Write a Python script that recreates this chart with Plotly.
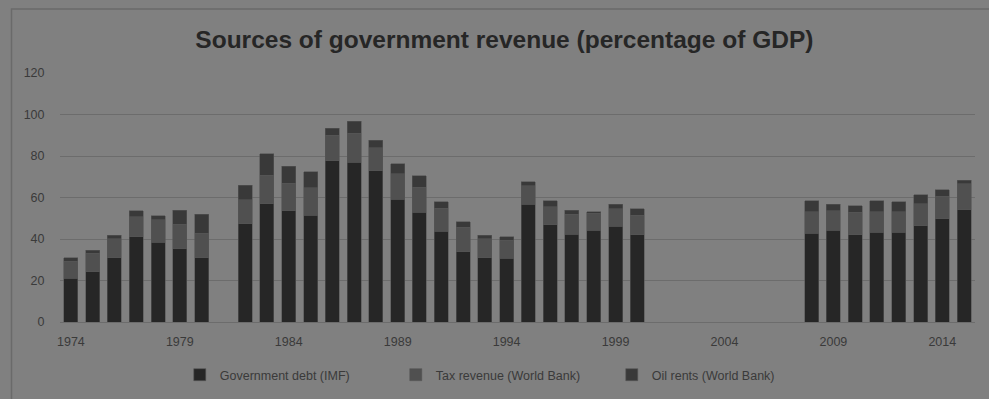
import plotly.graph_objects as go

years = list(range(1974, 2016))

debt_data = {
    1974: 21.0, 1975: 24.2, 1976: 31.0, 1977: 41.0, 1978: 38.4, 1979: 35.3, 1980: 31.0,
    1982: 47.4, 1983: 57.0, 1984: 53.5, 1985: 51.4, 1986: 77.8, 1987: 77.0, 1988: 73.0,
    1989: 59.1, 1990: 53.0, 1991: 43.7, 1992: 33.9, 1993: 31.0, 1994: 30.7, 1995: 56.8,
    1996: 46.9, 1997: 42.3, 1998: 44.2, 1999: 46.1, 2000: 42.0,
    2008: 42.8, 2009: 44.2, 2010: 42.1, 2011: 43.2, 2012: 43.2, 2013: 46.3, 2014: 49.7, 2015: 54.0,
}
tax_data = {
    1974: 8.4, 1975: 9.0, 1976: 9.1, 1977: 9.8, 1978: 11.0, 1979: 11.7, 1980: 11.7,
    1982: 11.5, 1983: 13.8, 1984: 13.3, 1985: 13.3, 1986: 12.1, 1987: 13.9, 1988: 10.9,
    1989: 12.3, 1990: 12.0, 1991: 11.2, 1992: 11.7, 1993: 9.1, 1994: 8.8, 1995: 8.8,
    1996: 8.7, 1997: 9.6, 1998: 8.2, 1999: 8.6, 2000: 9.4,
    2008: 10.4, 2009: 9.5, 2010: 10.8, 2011: 9.9, 2012: 9.9, 2013: 10.6, 2014: 10.8, 2015: 12.6,
}
oil_data = {
    1974: 1.6, 1975: 1.3, 1976: 1.6, 1977: 2.8, 1978: 1.8, 1979: 6.9, 1980: 9.3,
    1982: 6.9, 1983: 10.3, 1984: 8.3, 1985: 7.7, 1986: 3.4, 1987: 5.9, 1988: 3.7,
    1989: 4.8, 1990: 5.6, 1991: 3.0, 1992: 2.6, 1993: 1.8, 1994: 1.7, 1995: 2.1,
    1996: 2.8, 1997: 2.0, 1998: 0.8, 1999: 2.1, 2000: 3.1,
    2008: 5.3, 2009: 3.1, 2010: 3.2, 2011: 5.4, 2012: 4.9, 2013: 4.4, 2014: 3.3, 2015: 1.7,
}

debt = [debt_data.get(y) for y in years]
tax = [tax_data.get(y) for y in years]
oil = [oil_data.get(y) for y in years]

x_tick_vals = list(range(1974, 2016, 5))
y_tick_vals = [0, 20, 40, 60, 80, 100, 120]

series = [
    ("Government debt (IMF)", debt, "#262626"),
    ("Tax revenue (World Bank)", tax, "#505050"),
    ("Oil rents (World Bank)", oil, "#393939"),
]

fig = go.Figure()
for name, vals, col in series:
    fig.add_trace(go.Bar(
        x=years, y=vals, name=name,
        marker=dict(color=col, line=dict(color="#555555", width=0.6)),
        width=0.64,
    ))

font_family = "Liberation Sans, Arial, sans-serif"
fig.update_layout(
    barmode="stack",
    width=989, height=399,
    margin=dict(l=60, r=14, t=73, b=77, autoexpand=False),
    paper_bgcolor="#808080",
    plot_bgcolor="#808080",
    font=dict(family=font_family, size=12, color="#3a3a3a"),
    title=dict(
        text="<b>Sources of government revenue (percentage of GDP)</b>",
        x=0.51, xanchor="center", y=0.9, yanchor="middle",
        font=dict(size=24.5, color="#262626", family=font_family),
    ),
    xaxis=dict(
        range=[1973.5, 2015.5],
        tickvals=x_tick_vals,
        ticktext=[str(v) for v in x_tick_vals],
        showgrid=False, zeroline=False,
        showline=True, linecolor="#6c6c6c", linewidth=1,
        ticks="outside", ticklen=8, tickcolor="rgba(0,0,0,0)",
        tickfont=dict(size=12.5, color="#3a3a3a"),
    ),
    yaxis=dict(
        range=[0, 120],
        tickvals=y_tick_vals,
        showgrid=True, gridcolor="#6c6c6c", gridwidth=1,
        zeroline=False, showline=False,
        ticks="outside", ticklen=12, tickcolor="rgba(0,0,0,0)",
        tickfont=dict(size=12.5, color="#3a3a3a"),
    ),
    legend=dict(
        orientation="h", x=0.485, xanchor="center",
        yref="container", y=0.06, yanchor="middle",
        font=dict(size=12.5, color="#3a3a3a"), bgcolor="rgba(0,0,0,0)",
        itemwidth=30, traceorder="normal",
        entrywidth=171, entrywidthmode="pixels",
    ),
    bargap=0.36,
    shapes=[dict(
        type="rect", xref="paper", yref="paper",
        x0=-0.053, x1=1.1, y0=-0.5, y1=1.257,
        line=dict(color="#6a6a6a", width=1.5), fillcolor="rgba(0,0,0,0)", layer="below",
    )],
)

fig.write_html("out.html")
